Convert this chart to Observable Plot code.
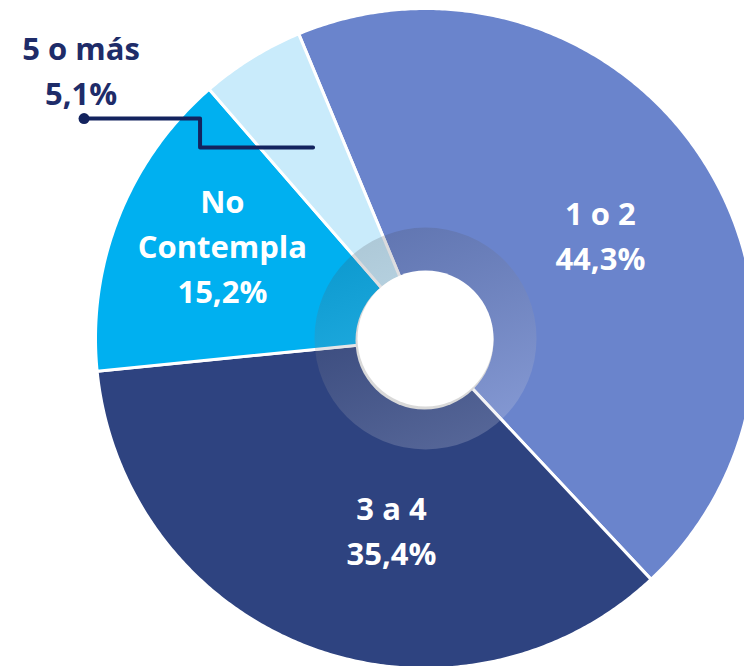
<!DOCTYPE html>
<html><head><meta charset="utf-8">
<script src="https://cdn.jsdelivr.net/npm/d3@7"></script>
<script src="https://cdn.jsdelivr.net/npm/@observablehq/plot@0.6"></script>
<style>
html,body{margin:0;padding:0;background:#fff;}
#chart{width:744px;height:666px;overflow:hidden;}
</style></head><body><div id="chart"></div>
<script>
// ---- data ----
const categories = ["1 o 2", "3 a 4", "No Contempla", "5 o más"];
const shares = [44.3, 35.4, 15.2, 5.1];
const valueLabels = ["44,3%", "35,4%", "15,2%", "5,1%"];
const categoryLines = [["1 o 2"], ["3 a 4"], ["No", "Contempla"], ["5 o más"]];
const colors = ["#6A84CC", "#2E4380", "#00B0F0", "#C9EBFB"];

// ---- layout ----
const W = 744, H = 666, CX = 425, CY = 338, R = 330;
const START = -22.6 * Math.PI / 180;
const rHole = 68, rRing = 111;
const labelRadius = 0.62;
const labelNudge = [[3, 6], [38, -2], [-13, -19], null]; // px
const outsideIndex = 3;

const pie = d3.pie().sort(null).startAngle(START).endAngle(START + 2 * Math.PI).value(d => d)(shares);

function wedge(p) {
  const pts = [{x: 0, y: 0}];
  const n = Math.max(2, Math.ceil((p.endAngle - p.startAngle) / (Math.PI / 360)));
  for (let j = 0; j <= n; j++) {
    const a = p.startAngle + (p.endAngle - p.startAngle) * j / n;
    pts.push({x: Math.sin(a), y: Math.cos(a)});
  }
  pts.push({x: 0, y: 0});
  return pts;
}
function centroid(p, r) {
  const a = (p.startAngle + p.endAngle) / 2;
  return {x: Math.sin(a) * r, y: Math.cos(a) * r};
}

const insideLabels = pie.map((p, i) => {
  if (i === outsideIndex) return null;
  const c = centroid(p, labelRadius);
  const [nx, ny] = labelNudge[i];
  return {x: c.x + nx / R, y: c.y - ny / R, text: categoryLines[i].join("\n") + "\n" + valueLabels[i]};
}).filter(d => d);

// leader for the small slice
const lp = pie[outsideIndex];
const c0 = centroid(lp, 0.67);
const lEnd = {x: c0.x + 4 / R, y: c0.y + 3 / R};
const leader = [
  {x: lEnd.x, y: lEnd.y},
  {x: lEnd.x - 113 / R, y: lEnd.y},
  {x: lEnd.x - 113 / R, y: lEnd.y + 29 / R},
  {x: lEnd.x - 229 / R, y: lEnd.y + 29 / R}
];
const leaderStart = leader[leader.length - 1];
const outsideLabel = [{x: leaderStart.x - 3 / R, y: leaderStart.y + 50 / R,
  text: categoryLines[outsideIndex].join("\n") + "\n" + valueLabels[outsideIndex]}];

const center = [{x: 0, y: 0}];

const defs = () => {
  const svg = d3.create("svg:g");
  const g = svg.append("defs").append("linearGradient")
    .attr("id", "ringGrad").attr("x1", "0.3").attr("y1", "0").attr("x2", "0.7").attr("y2", "1");
  g.append("stop").attr("offset", "0%").attr("stop-color", "rgb(60,60,70)").attr("stop-opacity", 0.2);
  g.append("stop").attr("offset", "100%").attr("stop-color", "rgb(230,230,240)").attr("stop-opacity", 0.22);
  return svg.node();
};

const chart = Plot.plot({
  width: W, height: H, margin: 0,
  x: {domain: [-CX / R, (W - CX) / R], range: [0, W], axis: null},
  y: {domain: [-(H - CY) / R, CY / R], range: [H, 0], axis: null},
  style: {background: "white", overflow: "hidden"},
  marks: [
    defs,
    ...pie.map((p, i) => Plot.line(wedge(p), {x: "x", y: "y", fill: colors[i], stroke: "white", strokeWidth: 3, strokeLinejoin: "round"})),
    Plot.dot(center, {x: "x", y: "y", r: rRing, fill: "url(#ringGrad)", stroke: "none"}),
    Plot.dot(center, {x: "x", y: "y", r: rHole + 1, fill: "#d9d9d9", dx: -1, dy: 2}),
    Plot.dot(center, {x: "x", y: "y", r: rHole, fill: "white"}),
    Plot.text(insideLabels, {x: "x", y: "y", text: "text", fill: "white", fontSize: 31, fontWeight: "bold",
      fontFamily: "Open Sans", lineHeight: 45 / 31, textAnchor: "middle"}),
    Plot.line(leader, {x: "x", y: "y", stroke: "#13235E", strokeWidth: 4}),
    Plot.dot([leaderStart], {x: "x", y: "y", r: 5.5, fill: "#13235E"}),
    Plot.text(outsideLabel, {x: "x", y: "y", text: "text", fill: "#1E2C69", fontSize: 31, fontWeight: "bold",
      fontFamily: "Open Sans", lineHeight: 45 / 31, textAnchor: "middle"})
  ]
});
document.getElementById("chart").appendChild(chart);
</script>
</body></html>
